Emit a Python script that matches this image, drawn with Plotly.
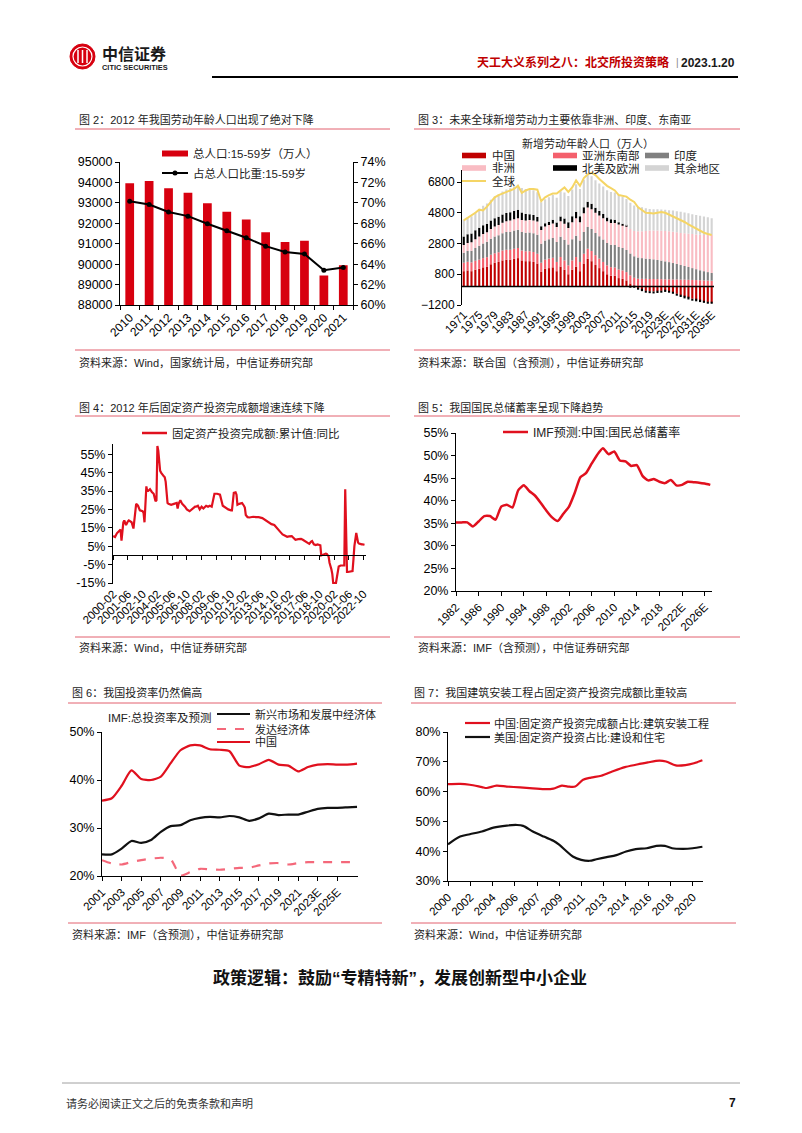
import plotly.graph_objects as go

# browser body margin is 8px: the figure occupies page pixels 8..794 x 8..1125
OFF = 8
W, H = 802 - 2 * OFF, 1133 - 2 * OFF
def X(v): return (v - OFF) / W
def Y(v): return 1 - (v - OFF) / H

FONT = "Liberation Sans, Arial, Noto Sans CJK SC, sans-serif"
RED = "#D7000F"
PINKLINE = "#E2606E"

# ---------------- DATA ----------------
# Fig 2
years2 = ["2010", "2011", "2012", "2013", "2014", "2015", "2016", "2017", "2018", "2019", "2020", "2021"]
pop_1559 = [93960, 94070, 93710, 93500, 92980, 92560, 92180, 91560, 91080, 91140, 89450, 89950]
share_1559 = [0.7016, 0.6983, 0.6910, 0.6870, 0.6795, 0.6727, 0.6658, 0.6576, 0.6520, 0.6500, 0.6340, 0.6367]

# Fig 3
years3 = [str(y) for y in range(1971, 2022)] + [f"{y}E" for y in range(2022, 2036)]
china3 = [1000, 1050, 1000, 1100, 1150, 1250, 1300, 1450, 1550, 1600,
          1700, 1750, 1750, 1800, 1850, 1700, 1650, 1650, 1600, 1500,
          950, 1150, 1200, 1250, 1000, 1300, 1100, 800, 1100, 1300,
          1000, 1500, 1800, 1650, 1400, 1200, 1000, 800, 700, 700,
          550, 500, 400, 200, 50, -100, -200, -280, -300, -320,
          -300, -280, -250, -300, -370, -470, -570, -650, -720, -790,
          -850, -910, -960, -1000, -1040]
sea3 = [550, 560, 570, 580, 600, 600, 610, 620, 620, 630,
        640, 650, 650, 660, 650, 650, 650, 650, 640, 640,
        600, 600, 620, 620, 600, 620, 600, 580, 600, 620,
        600, 640, 660, 660, 640, 620, 600, 580, 560, 540,
        560, 550, 540, 530, 520, 510, 500, 500, 490, 490,
        480, 480, 470, 470, 460, 460, 450, 450, 440, 430,
        420, 410, 400, 390, 380]
india3 = [650, 700, 760, 830, 900, 950, 1000, 1040, 1080, 1100,
          1120, 1140, 1160, 1180, 1190, 1200, 1200, 1210, 1220, 1230,
          1240, 1250, 1260, 1280, 1300, 1320, 1340, 1360, 1380, 1390,
          1400, 1410, 1420, 1430, 1440, 1450, 1460, 1460, 1460, 1460,
          1460, 1450, 1440, 1420, 1400, 1380, 1350, 1320, 1300, 1280,
          1250, 1210, 1170, 1120, 1070, 1010, 950, 890, 830, 770,
          710, 650, 600, 550, 500]
africa3 = [510, 530, 550, 570, 600, 610, 620, 630, 650, 670,
           690, 710, 730, 745, 760, 780, 800, 820, 840, 860,
           880, 900, 920, 950, 980, 1010, 1040, 1070, 1100, 1140,
           1180, 1220, 1260, 1290, 1320, 1350, 1380, 1400, 1420, 1440,
           1460, 1500, 1550, 1600, 1650, 1700, 1750, 1800, 1850, 1880,
           1910, 1940, 1970, 2000, 2030, 2060, 2090, 2130, 2170, 2210,
           2260, 2310, 2360, 2420, 2480]
nae3 = [550, 560, 570, 580, 580, 570, 560, 550, 540, 540,
        540, 540, 540, 540, 540, 480, 420, 380, 350, 300,
        250, 220, 220, 250, 280, 300, 350, 380, 400, 420,
        400, 380, 370, 350, 320, 300, 280, 250, 230, 200,
        150, 80, 30, -20, -50, -80, -100, -120, -130, -130,
        -120, -110, -100, -100, -100, -100, -110, -120, -120, -120,
        -110, -100, -100, -90, -80]
other3 = [1080, 1100, 1130, 1180, 1220, 1270, 1310, 1360, 1410, 1450,
          1490, 1530, 1570, 1600, 1630, 1600, 1620, 1620, 1620, 1600,
          1560, 1560, 1580, 1600, 1620, 1650, 1680, 1700, 1730, 1780,
          1760, 1790, 1800, 1800, 1790, 1780, 1780, 1780, 1780, 1780,
          1780, 1760, 1740, 1700, 1650, 1600, 1550, 1480, 1410, 1380,
          1380, 1380, 1380, 1380, 1380, 1370, 1370, 1350, 1330, 1300,
          1270, 1230, 1190, 1140, 1090]
world3 = [4300, 4450, 4600, 4800, 5000, 4950, 5200, 5500, 5800, 5950,
          6050, 6150, 6200, 6350, 6550, 6100, 6250, 6350, 6350, 6300,
          5550, 5800, 5950, 6050, 6050, 6250, 6450, 6150, 6450, 6900,
          6550, 7050, 7300, 7400, 7250, 7000, 6750, 6550, 6400, 6250,
          5950, 5900, 5850, 5650, 5500, 5150, 4950, 4800, 4780, 4750,
          4800, 4850, 4800, 4680, 4550, 4450, 4350, 4200, 4050, 3900,
          3750, 3620, 3500, 3420, 3350]

# Fig 4
fai_month = ["2000-02", "2000-04", "2000-06", "2000-08", "2000-10", "2000-11", "2001-01", "2001-02", "2001-04", "2001-06",
             "2001-07", "2001-10", "2001-12", "2002-03", "2002-05", "2002-07", "2002-10", "2002-11", "2002-12", "2003-02",
             "2003-03", "2003-04", "2003-06", "2003-08", "2003-10", "2003-12", "2004-01", "2004-02", "2004-03", "2004-05",
             "2004-06", "2004-09", "2004-10", "2004-11", "2005-01", "2005-02", "2005-05", "2005-08", "2005-11", "2005-12",
             "2006-01", "2006-03", "2006-05", "2006-08", "2006-10", "2007-01", "2007-04", "2007-07", "2007-08", "2007-10",
             "2007-12", "2008-02", "2008-04", "2008-07", "2008-09", "2008-11", "2009-01", "2009-02", "2009-04", "2009-07",
             "2009-10", "2010-01", "2010-04", "2010-07", "2010-10", "2010-11", "2011-01", "2011-03", "2011-04", "2011-05",
             "2011-07", "2011-09", "2011-10", "2011-12", "2012-01", "2012-02", "2012-04", "2012-06", "2012-10", "2013-01",
             "2013-04", "2013-08", "2013-10", "2013-12", "2014-02", "2014-04", "2014-06", "2014-09", "2014-12", "2015-02",
             "2015-04", "2015-06", "2015-08", "2015-11", "2016-01", "2016-04", "2016-06", "2016-08", "2016-11", "2017-02",
             "2017-04", "2017-07", "2017-09", "2017-11", "2018-01", "2018-02", "2018-04", "2018-06", "2018-08", "2018-10",
             "2018-11", "2018-12", "2019-02", "2019-03", "2019-05", "2019-06", "2019-08", "2019-09", "2019-10", "2019-11",
             "2019-12", "2020-01", "2020-03", "2020-04", "2020-05", "2020-06", "2020-07", "2020-09", "2020-11", "2020-12",
             "2021-01", "2021-02", "2021-03", "2021-04", "2021-05", "2021-07", "2021-09", "2021-10", "2021-11", "2021-12",
             "2022-02", "2022-03", "2022-04", "2022-05", "2022-06", "2022-08", "2022-09", "2022-10", "2022-11"]
fai_yoy = [10.5, 10.0, 12.0, 13.0, 14.0, 8.0, 18.0, 19.0, 16.5, 18.5,
           19.0, 18.0, 14.6, 28.0, 27.0, 24.5, 24.0, 23.0, 18.0, 37.5,
           35.0, 35.0, 36.0, 34.5, 33.5, 29.5, 30.0, 59.5, 57.0, 46.0,
           45.0, 43.0, 42.5, 40.0, 28.5, 28.0, 27.5, 28.0, 28.5, 25.5,
           28.0, 30.0, 28.0, 26.5, 25.0, 24.0, 25.5, 26.5, 26.5, 27.0,
           25.0, 26.5, 25.5, 27.0, 26.5, 27.0, 26.5, 29.0, 33.5, 33.5,
           33.0, 27.0, 25.8, 25.0, 24.5, 24.5, 34.0, 34.3, 33.0, 27.5,
           28.0, 28.5, 28.5, 27.0, 26.0, 22.0, 20.8, 20.6, 21.0, 20.8,
           20.8, 20.3, 19.6, 19.1, 18.0, 17.3, 17.0, 16.5, 15.0, 13.8,
           12.5, 11.4, 10.8, 10.1, 10.3, 10.5, 9.5, 8.5, 8.8, 9.0,
           8.5, 7.5, 7.0, 6.3, 7.5, 7.8, 6.0, 5.6, 6.0, 5.7,
           5.5, 0.0, 0.5, 0.7, 1.0, 0.8, -0.5, -4.0, -5.5, -7.5,
           -10.0, -15.0, -15.0, -15.0, -12.0, -7.5, -6.0, -5.5, -5.5, -5.8,
           -5.5, 36.0, 14.0, -9.0, -9.0, -8.8, -8.5, -8.5, -2.0, 5.0,
           12.2, 9.3, 7.0, 6.5, 6.2, 6.0, 6.0, 5.9, 5.8]
fai_ticks = ["2000-02", "2001-06", "2002-10", "2004-02", "2005-06", "2006-10", "2008-02", "2009-06", "2010-10",
             "2012-02", "2013-06", "2014-10", "2016-02", "2017-06", "2018-10", "2020-02", "2021-06", "2022-10"]
fai_yticks = [-15, -5, 5, 15, 25, 35, 45, 55]

# Fig 5
years5 = [str(y) for y in range(1982, 2022)] + [f"{y}E" for y in range(2022, 2028)]
saving5 = [35.2, 35.2, 35.2, 34.3, 35.4, 36.6, 36.6, 35.8, 38.7, 39.1,
           38.5, 42.3, 43.4, 42.1, 41.1, 39.5, 37.8, 36.3, 35.5, 37.1,
           38.7, 41.7, 45.2, 46.1, 48.2, 50.2, 51.6, 50.3, 50.9, 48.9,
           48.7, 47.7, 47.9, 45.5, 44.5, 44.8, 44.2, 43.9, 44.6, 43.4,
           43.5, 44.2, 44.1, 44.0, 43.8, 43.5]

# Fig 6
years6 = [str(y) for y in range(2001, 2022)] + [f"{y}E" for y in range(2022, 2028)]
inv_china = [35.7, 36.2, 38.8, 42.0, 40.2, 40.0, 40.7, 43.5, 46.2, 47.2, 47.2, 46.4, 46.3, 46.0,
             43.0, 42.7, 43.3, 44.2, 43.2, 43.0, 41.8, 42.7, 43.2, 43.3, 43.2, 43.2, 43.4]
inv_emerging = [24.5, 24.5, 25.7, 27.3, 26.9, 27.5, 29.2, 30.4, 30.6, 31.6, 32.1, 32.3, 32.2, 32.5,
                32.2, 31.5, 32.0, 33.0, 32.7, 32.8, 32.8, 33.4, 34.0, 34.2, 34.2, 34.3, 34.4]
inv_advanced = [23.3, 22.6, 22.4, 22.9, 23.3, 23.6, 23.8, 23.5, 20.1, 20.8, 21.5, 21.4, 21.3, 21.5,
                21.7, 21.7, 22.2, 22.6, 22.7, 22.4, 22.7, 22.9, 22.9, 22.9, 22.9, 22.9, 22.9]

# Fig 7
cn7_x = [2000, 2001.0, 2001.8, 2002.8, 2003.2, 2004.0, 2004.85, 2005.95, 2007.0, 2008.1, 2008.7, 2009.4, 2009.9,
         2010.5, 2011.15, 2011.8, 2012.65, 2013.6, 2014.6, 2015.5, 2016.5, 2017.45, 2018.0, 2018.8, 2019.6, 2020.3, 2021.0]
cn7_y = [62.5, 62.6, 62.3, 61.5, 61.2, 62.0, 61.7, 61.4, 61.1, 60.8, 61.0, 62.0, 61.7,
         61.7, 64.0, 64.7, 65.3, 66.8, 68.2, 69.0, 69.8, 70.4, 70.1, 68.8, 68.9, 69.5, 70.5]
us7_x = [2000, 2001.0, 2001.8, 2002.8, 2003.75, 2004.85, 2005.7, 2006.2, 2007.0, 2007.9, 2008.7, 2009.2, 2009.8,
         2010.3, 2011.0, 2011.7, 2012.25, 2013.1, 2013.9, 2014.7, 2015.5, 2016.4, 2017.2, 2017.9, 2018.5, 2019.4,
         2020.2, 2021.0]
us7_y = [42.3, 44.9, 45.7, 46.6, 47.9, 48.6, 48.8, 48.5, 46.6, 44.9, 43.5, 42.1, 39.9,
         38.2, 37.1, 36.8, 37.3, 38.0, 38.7, 39.9, 40.7, 41.0, 41.8, 41.8, 41.0, 40.8, 41.0, 41.5]
ticks7_pos = [2000, 2001.84, 2003.67, 2005.51, 2007.35, 2009.18, 2011.02, 2012.86, 2014.69, 2016.53, 2018.37, 2020.2]
ticks7_txt = ["2000", "2002", "2004", "2006", "2007", "2009", "2011", "2013", "2014", "2016", "2018", "2020"]

# ---------------- FIGURE ----------------
fig = go.Figure()

# Fig 2
fig.add_trace(go.Bar(x=years2, y=pop_1559, marker=dict(color=RED, line=dict(width=0)), width=0.45,
                     xaxis="x", yaxis="y", showlegend=False))
fig.add_trace(go.Scatter(x=years2, y=share_1559, mode="lines+markers", line=dict(color="black", width=2),
                         marker=dict(size=5, color="black"), xaxis="x", yaxis="y2", showlegend=False))

# Fig 3
c3 = [("中国", china3, "#C00000"), ("亚洲东南部", sea3, "#F4606C"), ("印度", india3, "#808080"),
      ("非洲", africa3, "#F9BCC3"), ("北美及欧洲", nae3, "#000000"), ("其余地区", other3, "#D4D4D4")]
for name, vals, col in c3:
    fig.add_trace(go.Bar(x=years3, y=vals, name=name, marker=dict(color=col, line=dict(width=0)), width=0.55,
                         xaxis="x2", yaxis="y3", showlegend=False))
fig.add_trace(go.Scatter(x=years3, y=world3, mode="lines", line=dict(color="#F5D565", width=2),
                         xaxis="x2", yaxis="y3", showlegend=False))

# Fig 4
fig.add_trace(go.Scatter(x=fai_month, y=fai_yoy, mode="lines", line=dict(color="#E0101E", width=2.2),
                         xaxis="x3", yaxis="y4", showlegend=False))
fig.add_trace(go.Scatter(x=fai_month[:1], y=[0], mode="markers", marker=dict(opacity=0), hoverinfo="skip",
                         xaxis="x4", yaxis="y4", showlegend=False))

# Fig 5
fig.add_trace(go.Scatter(x=years5, y=saving5, mode="lines", line=dict(color="#E0101E", width=2.5, shape="spline", smoothing=0.5),
                         xaxis="x5", yaxis="y5", showlegend=False))

# Fig 6
fig.add_trace(go.Scatter(x=years6, y=inv_china, mode="lines", line=dict(color="#E0101E", width=2.2, shape="spline", smoothing=0.6),
                         xaxis="x6", yaxis="y6", showlegend=False))
fig.add_trace(go.Scatter(x=years6, y=inv_emerging, mode="lines", line=dict(color="#111111", width=2.2, shape="spline", smoothing=0.6),
                         xaxis="x6", yaxis="y6", showlegend=False))
fig.add_trace(go.Scatter(x=years6, y=inv_advanced, mode="lines", line=dict(color="#F4687A", width=2.2, dash="dash", shape="spline", smoothing=0.6),
                         xaxis="x6", yaxis="y6", showlegend=False))

# Fig 7
fig.add_trace(go.Scatter(x=cn7_x, y=cn7_y, mode="lines", line=dict(color="#E0101E", width=2.2, shape="spline", smoothing=0.8),
                         xaxis="x7", yaxis="y7", showlegend=False))
fig.add_trace(go.Scatter(x=us7_x, y=us7_y, mode="lines", line=dict(color="#111111", width=2.2, shape="spline", smoothing=0.8),
                         xaxis="x7", yaxis="y7", showlegend=False))


def ax(size=11, **kw):
    d = dict(showgrid=False, zeroline=False, showline=True, linecolor="black", linewidth=1,
             ticks="outside", ticklen=4, tickcolor="black", tickwidth=1, automargin=False,
             tickfont=dict(family=FONT, size=size, color="black"))
    d.update(kw)
    return d


layout_axes = dict(
    xaxis=ax(12, domain=[X(120), X(353)], anchor="y", type="category", tickangle=-45,
             tickson="boundaries", range=[-0.5, 11.5]),
    yaxis=ax(12.5, domain=[Y(305), Y(162)], anchor="x", range=[88000, 95000], dtick=1000, tickformat="d"),
    yaxis2=ax(12.5, overlaying="y", side="right", anchor="x", range=[0.60, 0.74], dtick=0.02, tickformat=".0%"),
    xaxis2=ax(11.5, domain=[X(462), X(714)], anchor="y3", type="category", tickangle=-45, showline=False,
              ticks="", tickvals=years3[::4], range=[-0.45, 64.6]),
    yaxis3=ax(12, domain=[Y(305), Y(169.7)], anchor="x2", range=[-1200, 7600],
              tickvals=[-1200, 800, 2800, 4800, 6800], tickformat="d"),
    xaxis3=ax(11.5, domain=[X(113), X(366)], anchor="y4", type="date", tickangle=-45, showline=False, ticks="",
              tickvals=fai_ticks, ticktext=fai_ticks, range=["2000-01-25", "2022-12-20"]),
    xaxis4=ax(11, overlaying="x3", anchor="free", position=Y(555.4), type="date", showticklabels=False,
              tickvals=fai_ticks, range=["2000-01-25", "2022-12-20"]),
    yaxis4=ax(12.5, domain=[Y(584.1), Y(444.1)], anchor="x3", range=[-15.6, 60.5],
              tickvals=fai_yticks, ticktext=[f"{v}%" for v in fai_yticks]),
    xaxis5=ax(11.5, domain=[X(456), X(712)], anchor="y5", type="category", tickangle=-45,
              tickvals=years5[::4], range=[0, 45.3]),
    yaxis5=ax(12.5, domain=[Y(591), Y(433)], anchor="x5", range=[20, 55], dtick=5, ticksuffix="%"),
    xaxis6=ax(11.5, domain=[X(102), X(358)], anchor="y6", type="category", tickangle=-45,
              tickvals=years6[0:25:2], range=[0, 26.1]),
    yaxis6=ax(12.5, domain=[Y(876), Y(732)], anchor="x6", range=[20, 50], dtick=10, ticksuffix="%"),
    xaxis7=ax(11.5, domain=[X(448), X(703)], anchor="y7", tickangle=-45, tickvals=ticks7_pos, ticktext=ticks7_txt,
              range=[2000, 2021.05]),
    yaxis7=ax(12.5, domain=[Y(881), Y(732)], anchor="x7", range=[30, 80], dtick=10, ticksuffix="%"),
)

shapes = []
ann = []


def line(x0, y0, x1, y1, color="black", width=1, dash=None):
    d = dict(type="line", xref="paper", yref="paper", x0=X(x0), y0=Y(y0), x1=X(x1), y1=Y(y1),
             line=dict(color=color, width=width))
    if dash:
        d["line"]["dash"] = dash
    shapes.append(d)


def rect(x0, y0, x1, y1, color):
    shapes.append(dict(type="rect", xref="paper", yref="paper", x0=X(x0), y0=Y(y0), x1=X(x1), y1=Y(y1),
                       fillcolor=color, line=dict(width=0)))


def txt(x, y, s, size=11, color="#222222", bold=False, xanchor="left"):
    ann.append(dict(x=X(x), y=Y(y), xref="paper", yref="paper", text=("<b>%s</b>" % s) if bold else s,
                    showarrow=False, xanchor=xanchor, yanchor="middle",
                    font=dict(family=FONT, size=size, color=color)))


# header / logo
shapes.append(dict(type="circle", xref="paper", yref="paper", x0=X(70), y0=Y(69), x1=X(95), y1=Y(44),
                   fillcolor="#D7000F", line=dict(color="#D7000F", width=1)))
shapes.append(dict(type="circle", xref="paper", yref="paper", x0=X(73), y0=Y(66), x1=X(92), y1=Y(47),
                   line=dict(color="white", width=1.2)))
for xx in (78, 82.5, 87):
    line(xx, 50, xx, 63, "white", 1.5)
txt(100, 54, "中信证券", 16, "#1a1a1a", True)
txt(100, 67.5, "CITIC SECURITIES", 7.4, "#1a1a1a", True)
txt(671, 63, "天工大义系列之八：北交所投资策略", 12, "#C00000", True, "right")
txt(677, 63, "|", 10, "#888888", False, "center")
txt(737, 63, "2023.1.20", 12, "#1a1a1a", True, "right")
line(212, 77, 738, 77, "black", 2)

# titles, separators, sources
titles = [(77, 120, "图 2：2012 年我国劳动年龄人口出现了绝对下降"),
          (416, 120, "图 3：未来全球新增劳动力主要依靠非洲、印度、东南亚"),
          (77, 407, "图 4：2012 年后固定资产投资完成额增速连续下降"),
          (416, 407, "图 5：我国国民总储蓄率呈现下降趋势"),
          (70, 692, "图 6：我国投资率仍然偏高"),
          (412, 692, "图 7：我国建筑安装工程占固定资产投资完成额比重较高")]
for x, y, s in titles:
    txt(x, y, s, 11)
sources = [(77, 362, "资料来源：Wind，国家统计局，中信证券研究部"),
           (416, 362, "资料来源：联合国（含预测），中信证券研究部"),
           (77, 647, "资料来源：Wind，中信证券研究部"),
           (416, 647, "资料来源：IMF（含预测），中信证券研究部"),
           (70, 934, "资料来源：IMF（含预测），中信证券研究部"),
           (412, 934, "资料来源：Wind，中信证券研究部")]
for x, y, s in sources:
    txt(x, y, s, 11)
for y in (129, 350, 416, 637):
    line(75, y, 390, y, PINKLINE, 1)
    line(414, y, 740, y, PINKLINE, 1)
for y in (703, 923):
    line(68, y, 382, y, PINKLINE, 1)
    line(411, y, 736, y, PINKLINE, 1)

# fig 2 legend
rect(162, 150.5, 188, 156.5, RED)
txt(191, 153, "总人口:15-59岁（万人）", 11.5)
line(162, 173, 188, 173, "black", 2)
shapes.append(dict(type="circle", xref="paper", yref="paper", x0=X(172.5), y0=Y(175.5), x1=X(177.5), y1=Y(170.5),
                   fillcolor="black", line=dict(width=0)))
txt(191, 173, "占总人口比重:15-59岁", 11.5)

# fig 3 legend + zero line
txt(588, 144, "新增劳动年龄人口（万人）", 11, "#222222", False, "center")
cols = [(462, 490), (553, 580), (645, 672)]
rows = [155.5, 168]
for i, (name, vals, col) in enumerate(c3):
    cx, tx = cols[i % 3]
    ry = rows[i // 3]
    rect(cx, ry - 2.8, cx + 24, ry + 2.8, col)
    txt(tx, ry, name, 11.5)
line(462, 181, 486, 181, "#F5D565", 2)
txt(490, 181, "全球", 11.5)
shapes.append(dict(type="line", xref="x2 domain", yref="y3", x0=0, x1=1, y0=0, y1=0,
                   line=dict(color="black", width=1.5), layer="above"))

# fig 4 legend
line(142, 433, 167, 433, "#E0101E", 2.5)
txt(170, 433, "固定资产投资完成额:累计值:同比", 11.5)

# fig 5 legend
line(503, 432, 528, 432, "#E0101E", 2.5)
txt(531, 432, "IMF预测:中国:国民总储蓄率", 12)

# fig 6 legend
txt(106, 717, "IMF:总投资率及预测", 11.5)
line(217, 714, 250, 714, "#111111", 2.2)
txt(253, 714, "新兴市场和发展中经济体", 11)
line(217, 729, 250, 729, "#F4687A", 2.2, "dash")
txt(253, 729, "发达经济体", 11)
line(217, 742, 250, 742, "#E0101E", 2.2)
txt(253, 742, "中国", 11)

# fig 7 legend
line(465, 723, 490, 723, "#E0101E", 2.2)
txt(492, 723, "中国:固定资产投资完成额占比:建筑安装工程", 11)
line(465, 737, 490, 737, "#111111", 2.2)
txt(492, 737, "美国:固定资产投资占比:建设和住宅", 11)

# section heading & footer
txt(400, 978, "政策逻辑：鼓励“专精特新”，发展创新型中小企业", 17, "#111111", True, "center")
line(62, 1083, 740, 1083, "#A0A0A0", 1)
txt(64, 1103, "请务必阅读正文之后的免责条款和声明", 11, "#333333")
txt(738, 1103, "7", 12, "#111111", True, "right")

fig.update_layout(
    template="none",
    width=W, height=H, autosize=False,
    margin=dict(l=0, r=0, t=0, b=0, pad=0),
    paper_bgcolor="white", plot_bgcolor="white",
    barmode="relative", bargap=0.4,
    showlegend=False,
    shapes=shapes, annotations=ann,
    font=dict(family=FONT, color="black"),
    **layout_axes,
)

fig.write_html("out.html")
